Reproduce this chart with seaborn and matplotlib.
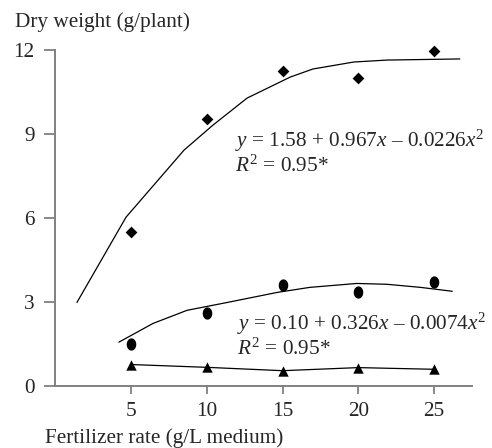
import numpy as np
import matplotlib
matplotlib.use("Agg")
import matplotlib.pyplot as plt
from matplotlib.path import Path
import seaborn as sns

# measured points
rates = [5, 10, 15, 20, 25]
diamond_y = [5.48, 9.53, 11.25, 10.99, 11.96]
circle_y = [1.50, 2.58, 3.58, 3.33, 3.69]
triangle_y = [0.75, 0.65, 0.53, 0.64, 0.58]

# fitted curves as drawn in the picture
upper_x = [1.43, 4.67, 8.5, 10.4, 12.66, 15.5, 17.0, 19.7, 21.9, 26.7]
upper_y = [2.97, 6.02, 8.42, 9.31, 10.28, 11.03, 11.32, 11.57, 11.64, 11.68]
middle_x = [4.2, 6.45, 8.7, 11.35, 14.65, 16.8, 19.9, 21.9, 24.1, 26.2]
middle_y = [1.55, 2.22, 2.69, 2.97, 3.33, 3.51, 3.65, 3.62, 3.51, 3.37]

y_ticks = [0, 3, 6, 9, 12]
x_ticks = [5, 10, 15, 20, 25]

sns.set_style("ticks")
plt.rcParams["font.family"] = ["Liberation Serif", "DejaVu Serif"]
plt.rcParams["mathtext.fontset"] = "custom"
plt.rcParams["mathtext.rm"] = "Liberation Serif"
plt.rcParams["mathtext.it"] = "Liberation Serif:italic"

fs = 15.3

fig = plt.figure(figsize=(4.92, 4.48), dpi=100)
ax = fig.add_axes([0.1123, 0.1395, 0.8470, 0.7489])

# slightly tall ellipse for the circle marker
t = np.linspace(0, 2 * np.pi, 40)
ellipse = Path(np.column_stack([0.39 * np.cos(t), 0.5 * np.sin(t)]), closed=True)

sns.lineplot(x=upper_x, y=upper_y, color="black", linewidth=0.9, sort=False, estimator=None, ax=ax)
sns.lineplot(x=middle_x, y=middle_y, color="black", linewidth=0.9, sort=False, estimator=None, ax=ax)
sns.lineplot(x=rates, y=triangle_y, color="black", linewidth=0.9, sort=False, estimator=None, ax=ax)

sns.scatterplot(x=rates, y=diamond_y, marker="D", s=36, color="black", edgecolor="black", linewidth=0, ax=ax, zorder=3, clip_on=False)
sns.scatterplot(x=rates, y=circle_y, marker=ellipse, s=78, color="black", edgecolor="black", linewidth=0, ax=ax, zorder=3, clip_on=False)
sns.scatterplot(x=rates, y=triangle_y, marker="^", s=56, color="black", edgecolor="black", linewidth=0, ax=ax, zorder=3, clip_on=False)

ax.set_xlim(0, 27.5)
ax.set_ylim(0, 12)
ax.set_xticks(x_ticks)
ax.set_yticks(y_ticks)
ax.tick_params(axis="y", length=8, width=1.3, color="#808080", pad=7, labelsize=fs)
ax.tick_params(axis="x", length=6, width=1.3, color="#808080", pad=6, labelsize=fs)
for side in ["top", "right"]:
    ax.spines[side].set_visible(False)
for side in ["left", "bottom"]:
    ax.spines[side].set_color("#808080")
    ax.spines[side].set_linewidth(1.4)

ax.text(11.87, 8.53, r"$y$ = 1.58 + 0.967$x$ – 0.0226$x^2$", fontsize=fs, va="baseline")
ax.text(11.87, 7.64, r"$R^2$ = 0.95*", fontsize=fs, va="baseline")
ax.text(12.0, 1.98, r"$y$ = 0.10 + 0.326$x$ – 0.0074$x^2$", fontsize=fs, va="baseline")
ax.text(12.0, 1.09, r"$R^2$ = 0.95*", fontsize=fs, va="baseline")

fig.text(15 / 492, 1 - 27 / 448, "Dry weight (g/plant)", fontsize=fs, va="baseline")
fig.text(45 / 492, 1 - 443 / 448, "Fertilizer rate (g/L medium)", fontsize=fs, va="baseline")

fig.savefig("out.png", dpi=100)
